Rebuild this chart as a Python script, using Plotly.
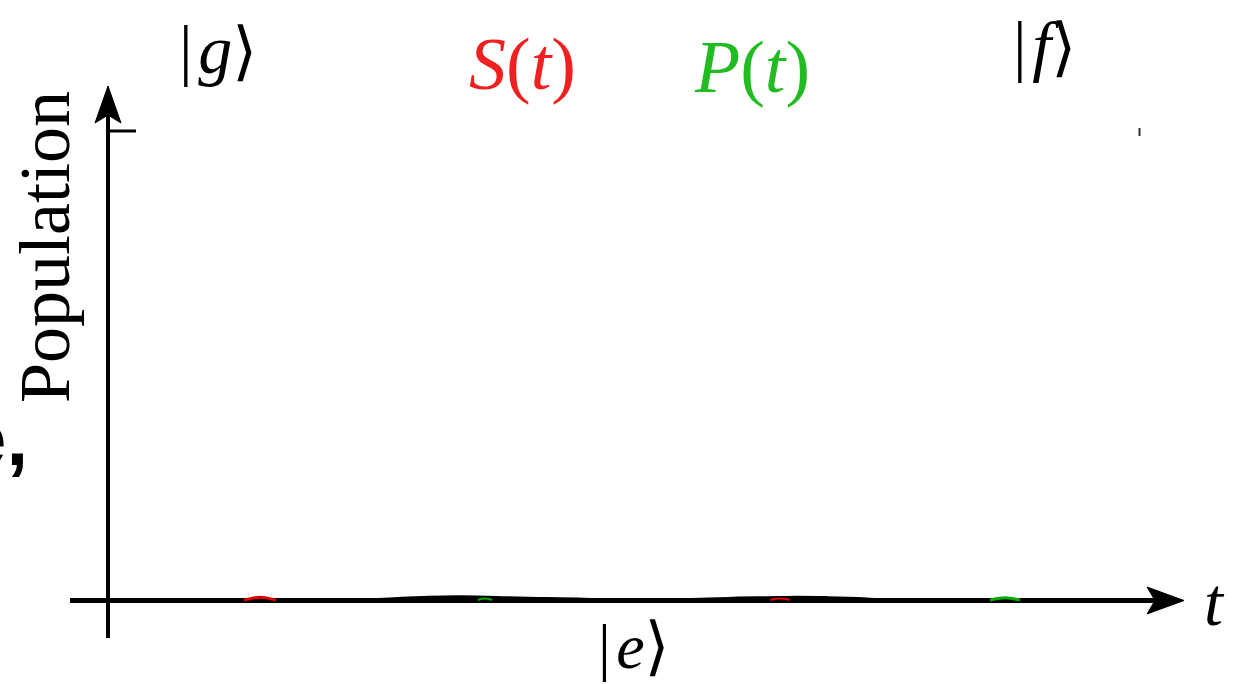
import plotly.graph_objects as go

W, H = 1239, 684

# time axis (arbitrary units) and small population traces that sit on the t axis
t_pop = [0.0, 2.6, 2.9, 3.2, 3.5, 3.8, 4.1, 4.4, 4.7, 5.0, 5.6, 6.0, 6.3, 6.6, 6.9, 7.2, 7.5, 7.8, 8.4, 10.4]
pop = [0.0, 0.0, 0.003, 0.006, 0.007, 0.006, 0.004, 0.003, 0.002, 0.0, 0.0, 0.002, 0.004, 0.005, 0.006, 0.005, 0.003, 0.0, 0.0, 0.0]

t_s = [1.36, 1.45, 1.52, 1.59, 1.68]
s_vals = [0.0, 0.004, 0.006, 0.004, 0.0]
t_s2 = [6.62, 6.72, 6.82]
s_vals2 = [0.0, 0.003, 0.0]

t_p = [3.70, 3.77, 3.84]
p_vals = [0.0, 0.003, 0.0]
t_p2 = [8.82, 8.90, 8.97, 9.04, 9.12]
p_vals2 = [0.0, 0.003, 0.005, 0.003, 0.0]

state_names = ["g", "f", "e"]
pulse_labels = ["S", "P"]
pulse_colors = ["#ee2020", "#22bb22"]

# pixel <-> data mapping: origin at (108, 600), 100 px per unit of t, 470 px per unit of population
X0, Y0, SX, SY = 108, 600, 100.0, 470.0
xr = [-X0 / SX, (W - X0) / SX]
yr = [-(H - Y0) / SY, Y0 / SY]


def px(x):
    return x / W


def py(y):
    return 1 - y / H


fig = go.Figure()
fig.add_trace(go.Scatter(x=t_pop, y=pop, mode="lines", line=dict(color="black", width=3, shape="spline"), showlegend=False))
fig.add_trace(go.Scatter(x=t_s, y=s_vals, mode="lines", line=dict(color="#e00000", width=3, shape="spline"), showlegend=False))
fig.add_trace(go.Scatter(x=t_s2, y=s_vals2, mode="lines", line=dict(color="#e00000", width=2, shape="spline"), showlegend=False))
fig.add_trace(go.Scatter(x=t_p, y=p_vals, mode="lines", line=dict(color="#00aa00", width=2, shape="spline"), showlegend=False))
fig.add_trace(go.Scatter(x=t_p2, y=p_vals2, mode="lines", line=dict(color="#00aa00", width=3, shape="spline"), showlegend=False))

shapes = []
# horizontal t axis with arrowhead
shapes.append(dict(type="line", xref="paper", yref="paper", x0=px(70), x1=px(1160), y0=py(600.5), y1=py(600.5),
                   line=dict(color="black", width=5), layer="below"))
shapes.append(dict(type="path", xref="paper", yref="paper",
                   path=f"M {px(1184)} {py(600.5)} L {px(1147)} {py(587)} L {px(1155)} {py(600.5)} L {px(1147)} {py(614)} Z",
                   fillcolor="black", line=dict(color="black", width=1)))
# vertical population axis with arrowhead
shapes.append(dict(type="line", xref="paper", yref="paper", x0=px(108), x1=px(108), y0=py(638), y1=py(110),
                   line=dict(color="black", width=4), layer="below"))
shapes.append(dict(type="path", xref="paper", yref="paper",
                   path=f"M {px(108)} {py(86)} L {px(95)} {py(123)} L {px(108)} {py(115)} L {px(121)} {py(123)} Z",
                   fillcolor="black", line=dict(color="black", width=1)))
# tick at population = 1
shapes.append(dict(type="line", xref="paper", yref="paper", x0=px(108), x1=px(136), y0=py(131), y1=py(131),
                   line=dict(color="black", width=3)))
shapes.append(dict(type="line", xref="paper", yref="paper", x0=px(1139.5), x1=px(1139.5), y0=py(128), y1=py(136),
                   line=dict(color="#333333", width=2)))

serif = "Liberation Serif, DejaVu Serif, serif"
ann = []


def label(text, x, y, size, color="black", angle=0, family=serif):
    ann.append(dict(text=text, x=px(x), y=py(y), xref="paper", yref="paper", showarrow=False,
                    textangle=angle, font=dict(family=family, size=size, color=color),
                    xanchor="center", yanchor="middle"))


def ket(name):
    return (f"<span style='font-weight:300'>|</span>&#8202;<i>{name}</i>"
            f"<span style='font-family:DejaVu Serif;font-size:64px'>⟩</span>")


label(ket(state_names[0]), 218, 50, 68)
label(ket(state_names[1]), 1044, 46, 68)
label(ket(state_names[2]), 634, 646, 64)
label(f"<i>{pulse_labels[0]}</i>(<i>t</i>)", 522, 64, 74, color=pulse_colors[0])
label(f"<i>{pulse_labels[1]}</i>(<i>t</i>)", 752, 67, 74, color=pulse_colors[1])
label("<i>t</i>", 1214, 602, 68)
label("Population", 45, 247, 72, angle=-90)
ann.append(dict(text="<b>e,</b>", x=px(30), y=py(438), xref="paper", yref="paper", showarrow=False,
                font=dict(family="Liberation Sans, Arial, sans-serif", size=78, color="black"),
                xanchor="right", yanchor="middle"))

fig.update_layout(
    width=W, height=H,
    margin=dict(l=0, r=0, t=0, b=0),
    paper_bgcolor="white", plot_bgcolor="white",
    xaxis=dict(range=xr, visible=False, fixedrange=True),
    yaxis=dict(range=yr, visible=False, fixedrange=True),
    shapes=shapes, annotations=ann,
)

fig.write_html("out.html")
